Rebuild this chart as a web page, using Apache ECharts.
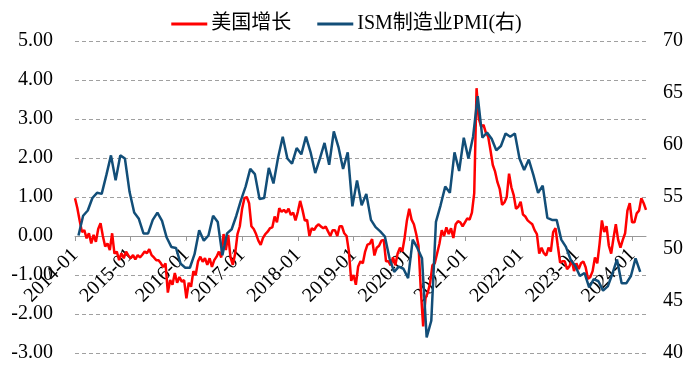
<!DOCTYPE html>
<html>
<head>
<meta charset="utf-8">
<script src="https://cdn.jsdelivr.net/npm/echarts@6/dist/echarts.min.js"></script>
<style>
html,body{margin:0;padding:0;background:#fff;}
#chart{width:693px;height:366px;}
</style>
</head>
<body>
<div id="chart"></div>
<script>
// Tick labels (one per year, at January)
const tickLabels = ['2014-01','2015-01','2016-01','2017-01','2018-01','2019-01','2020-01','2021-01','2022-01','2023-01','2024-01'];

// 美国增长: semi-monthly readings starting 2014-01 (left axis)
const usGrowth = [
  0.97, 0.72, 0.40, 0.10, 0.15, -0.06, 0.07, -0.19, 0.03, -0.15, 0.18, 0.33, 0.00, -0.27, -0.19, -0.36, 0.07, -0.45, -0.40, -0.62, -0.44, -0.57, -0.40, -0.50,
  -0.57, -0.49, -0.60, -0.49, -0.55, -0.48, -0.40, -0.44, -0.34, -0.49, -0.55, -0.62, -0.62, -0.70, -0.80, -0.70, -1.45, -1.13, -1.25, -0.95, -1.20, -1.05, -1.17, -1.13,
  -1.60, -1.20, -1.30, -0.90, -1.00, -0.65, -0.53, -0.66, -0.57, -0.74, -0.57, -0.79, -0.62, -0.53, -0.40, -0.55, 0.05, -0.36, 0.03, -0.55, -0.74, -0.45, 0.05, 0.25,
  0.70, 0.97, 1.00, 0.84, 0.25, 0.18, 0.05, -0.12, -0.23, -0.05, 0.05, 0.11, 0.20, 0.22, 0.50, 0.35, 0.71, 0.62, 0.67, 0.60, 0.70, 0.54, 0.60, 0.40,
  0.62, 0.90, 0.67, 0.40, 0.41, 0.00, 0.20, 0.15, 0.25, 0.30, 0.24, 0.20, 0.24, 0.12, 0.00, 0.15, 0.15, 0.00, 0.25, 0.25, 0.07, 0.00, -0.40, -1.15,
  -1.00, -1.25, -0.78, -0.65, -0.70, -0.40, -0.22, -0.20, -0.08, -0.50, -0.30, -0.25, -0.12, -0.10, -0.65, -0.65, -0.75, -0.55, -0.75, -0.45, -0.30, -0.40, -0.05, 0.40,
  0.70, 0.42, 0.30, 0.05, -0.25, -1.40, -2.32, -1.60, -1.45, -1.20, -0.75, -0.70, -0.45, -0.20, 0.15, 0.00, 0.22, 0.05, 0.20, -0.05, 0.30, 0.38, 0.35, 0.25,
  0.35, 0.45, 0.42, 0.60, 1.10, 3.79, 3.00, 2.80, 2.85, 2.65, 2.55, 2.20, 1.82, 1.65, 1.38, 1.20, 0.80, 0.86, 1.00, 1.60, 1.25, 1.05, 0.70, 0.75,
  0.88, 0.55, 0.50, 0.40, 0.35, 0.30, 0.15, 0.05, -0.45, -0.30, -0.44, -0.50, -0.30, -0.40, 0.10, 0.20, -0.25, -0.68, -0.65, -0.65, -0.85, -0.78, -0.62, -0.90,
  -0.70, -0.85, -0.70, -0.65, -0.80, -1.10, -1.05, -0.90, -0.55, -0.70, -0.20, 0.40, 0.10, 0.25, -0.25, -0.45, -0.05, 0.30, -0.10, -0.30, -0.10, 0.07, 0.65, 0.84,
  0.35, 0.35, 0.58, 0.65, 0.97, 0.84, 0.67
];

// ISM制造业PMI: monthly, 2014-01 .. 2024-02 (right axis)
const ismPMI = [
  51.3, 53.2, 53.7, 54.9, 55.4, 55.3, 57.1, 59.0, 56.6, 59.0, 58.7, 55.5,
  53.5, 52.9, 51.5, 51.5, 52.8, 53.5, 52.7, 51.1, 50.2, 50.1, 48.6, 48.2,
  48.2, 49.5, 51.8, 50.8, 51.3, 53.2, 52.6, 49.4, 51.5, 51.9, 53.2, 54.7,
  56.0, 57.7, 57.2, 54.8, 54.9, 57.8, 56.3, 58.8, 60.8, 58.7, 58.2, 59.7,
  59.1, 60.8, 59.3, 57.3, 58.7, 60.2, 58.1, 61.3, 59.8, 57.7, 59.3, 54.1,
  56.6, 54.2, 55.3, 52.8, 52.1, 51.7, 51.2, 49.1, 47.8, 48.3, 48.1, 47.2,
  50.9, 50.1, 49.1, 41.5, 43.1, 52.6, 54.2, 56.0, 55.4, 59.3, 57.5, 60.7,
  58.7, 60.8, 64.7, 60.7, 61.2, 60.6, 59.5, 59.9, 61.1, 60.8, 61.1, 58.7,
  57.6, 58.6, 57.1, 55.4, 56.1, 53.0, 52.8, 52.8, 50.9, 50.2, 49.0, 48.4,
  47.4, 47.7, 46.3, 47.1, 46.9, 46.0, 46.4, 47.6, 49.0, 46.7, 46.7, 47.4,
  49.1, 47.8
];

// time position in months since 2014-01
const redData = usGrowth.map((v, i) => [i / 2, v]);
const blueData = ismPMI.map((v, i) => [i + 0.75, v]);
const tickPos = tickLabels.map((_, i) => i * 12);

const FONT = '"Liberation Serif", "Times New Roman", "Noto Sans CJK SC", serif';

const chart = echarts.init(document.getElementById('chart'), null, {renderer: 'canvas'});
chart.setOption({
  animation: false,
  backgroundColor: '#fff',
  textStyle: {fontFamily: FONT},
  legend: {
    left: 'center', top: 9,
    icon: 'rect', itemWidth: 36, itemHeight: 3, itemGap: 26,
    textStyle: {fontFamily: FONT, fontSize: 20, color: '#000', padding: [0, 0, 0, -1]},
    data: ['美国增长', 'ISM制造业PMI(右)']
  },
  grid: {left: 75, right: 47, top: 41, bottom: 13, containLabel: false, outerBoundsMode: 'none'},
  xAxis: {
    type: 'value', min: 0, max: 123, position: 'bottom', offset: -117,
    axisLine: {onZero: false, lineStyle: {color: '#999', width: 1}},
    axisTick: {customValues: tickPos, length: 5, lineStyle: {color: '#999'}},
    axisLabel: {
      customValues: tickPos, rotate: 45, margin: 16, fontSize: 20, color: '#000', fontFamily: FONT,
      formatter: v => tickLabels[Math.round(v / 12)] || ''
    },
    splitLine: {show: false}
  },
  yAxis: [
    {
      type: 'value', min: -3, max: 5, interval: 1,
      axisLine: {show: false}, axisTick: {show: false},
      axisLabel: {formatter: v => v.toFixed(2), fontSize: 20, color: '#000', margin: 22, fontFamily: FONT},
      splitLine: {show: true, lineStyle: {color: '#a0a0a0', type: [4, 3], width: 1}}
    },
    {
      type: 'value', min: 40, max: 70, interval: 5,
      axisLine: {show: false}, axisTick: {show: false},
      axisLabel: {fontSize: 20, color: '#000', margin: 17, fontFamily: FONT},
      splitLine: {show: false}
    }
  ],
  series: [
    {
      name: '美国增长', type: 'line', yAxisIndex: 0, data: redData,
      showSymbol: false, symbol: 'none', z: 2,
      lineStyle: {color: '#ff0000', width: 2.5}, itemStyle: {color: '#ff0000'}
    },
    {
      name: 'ISM制造业PMI(右)', type: 'line', yAxisIndex: 1, data: blueData,
      showSymbol: false, symbol: 'none', z: 3,
      lineStyle: {color: '#124e78', width: 2.5}, itemStyle: {color: '#124e78'}
    }
  ]
});
</script>
</body>
</html>
